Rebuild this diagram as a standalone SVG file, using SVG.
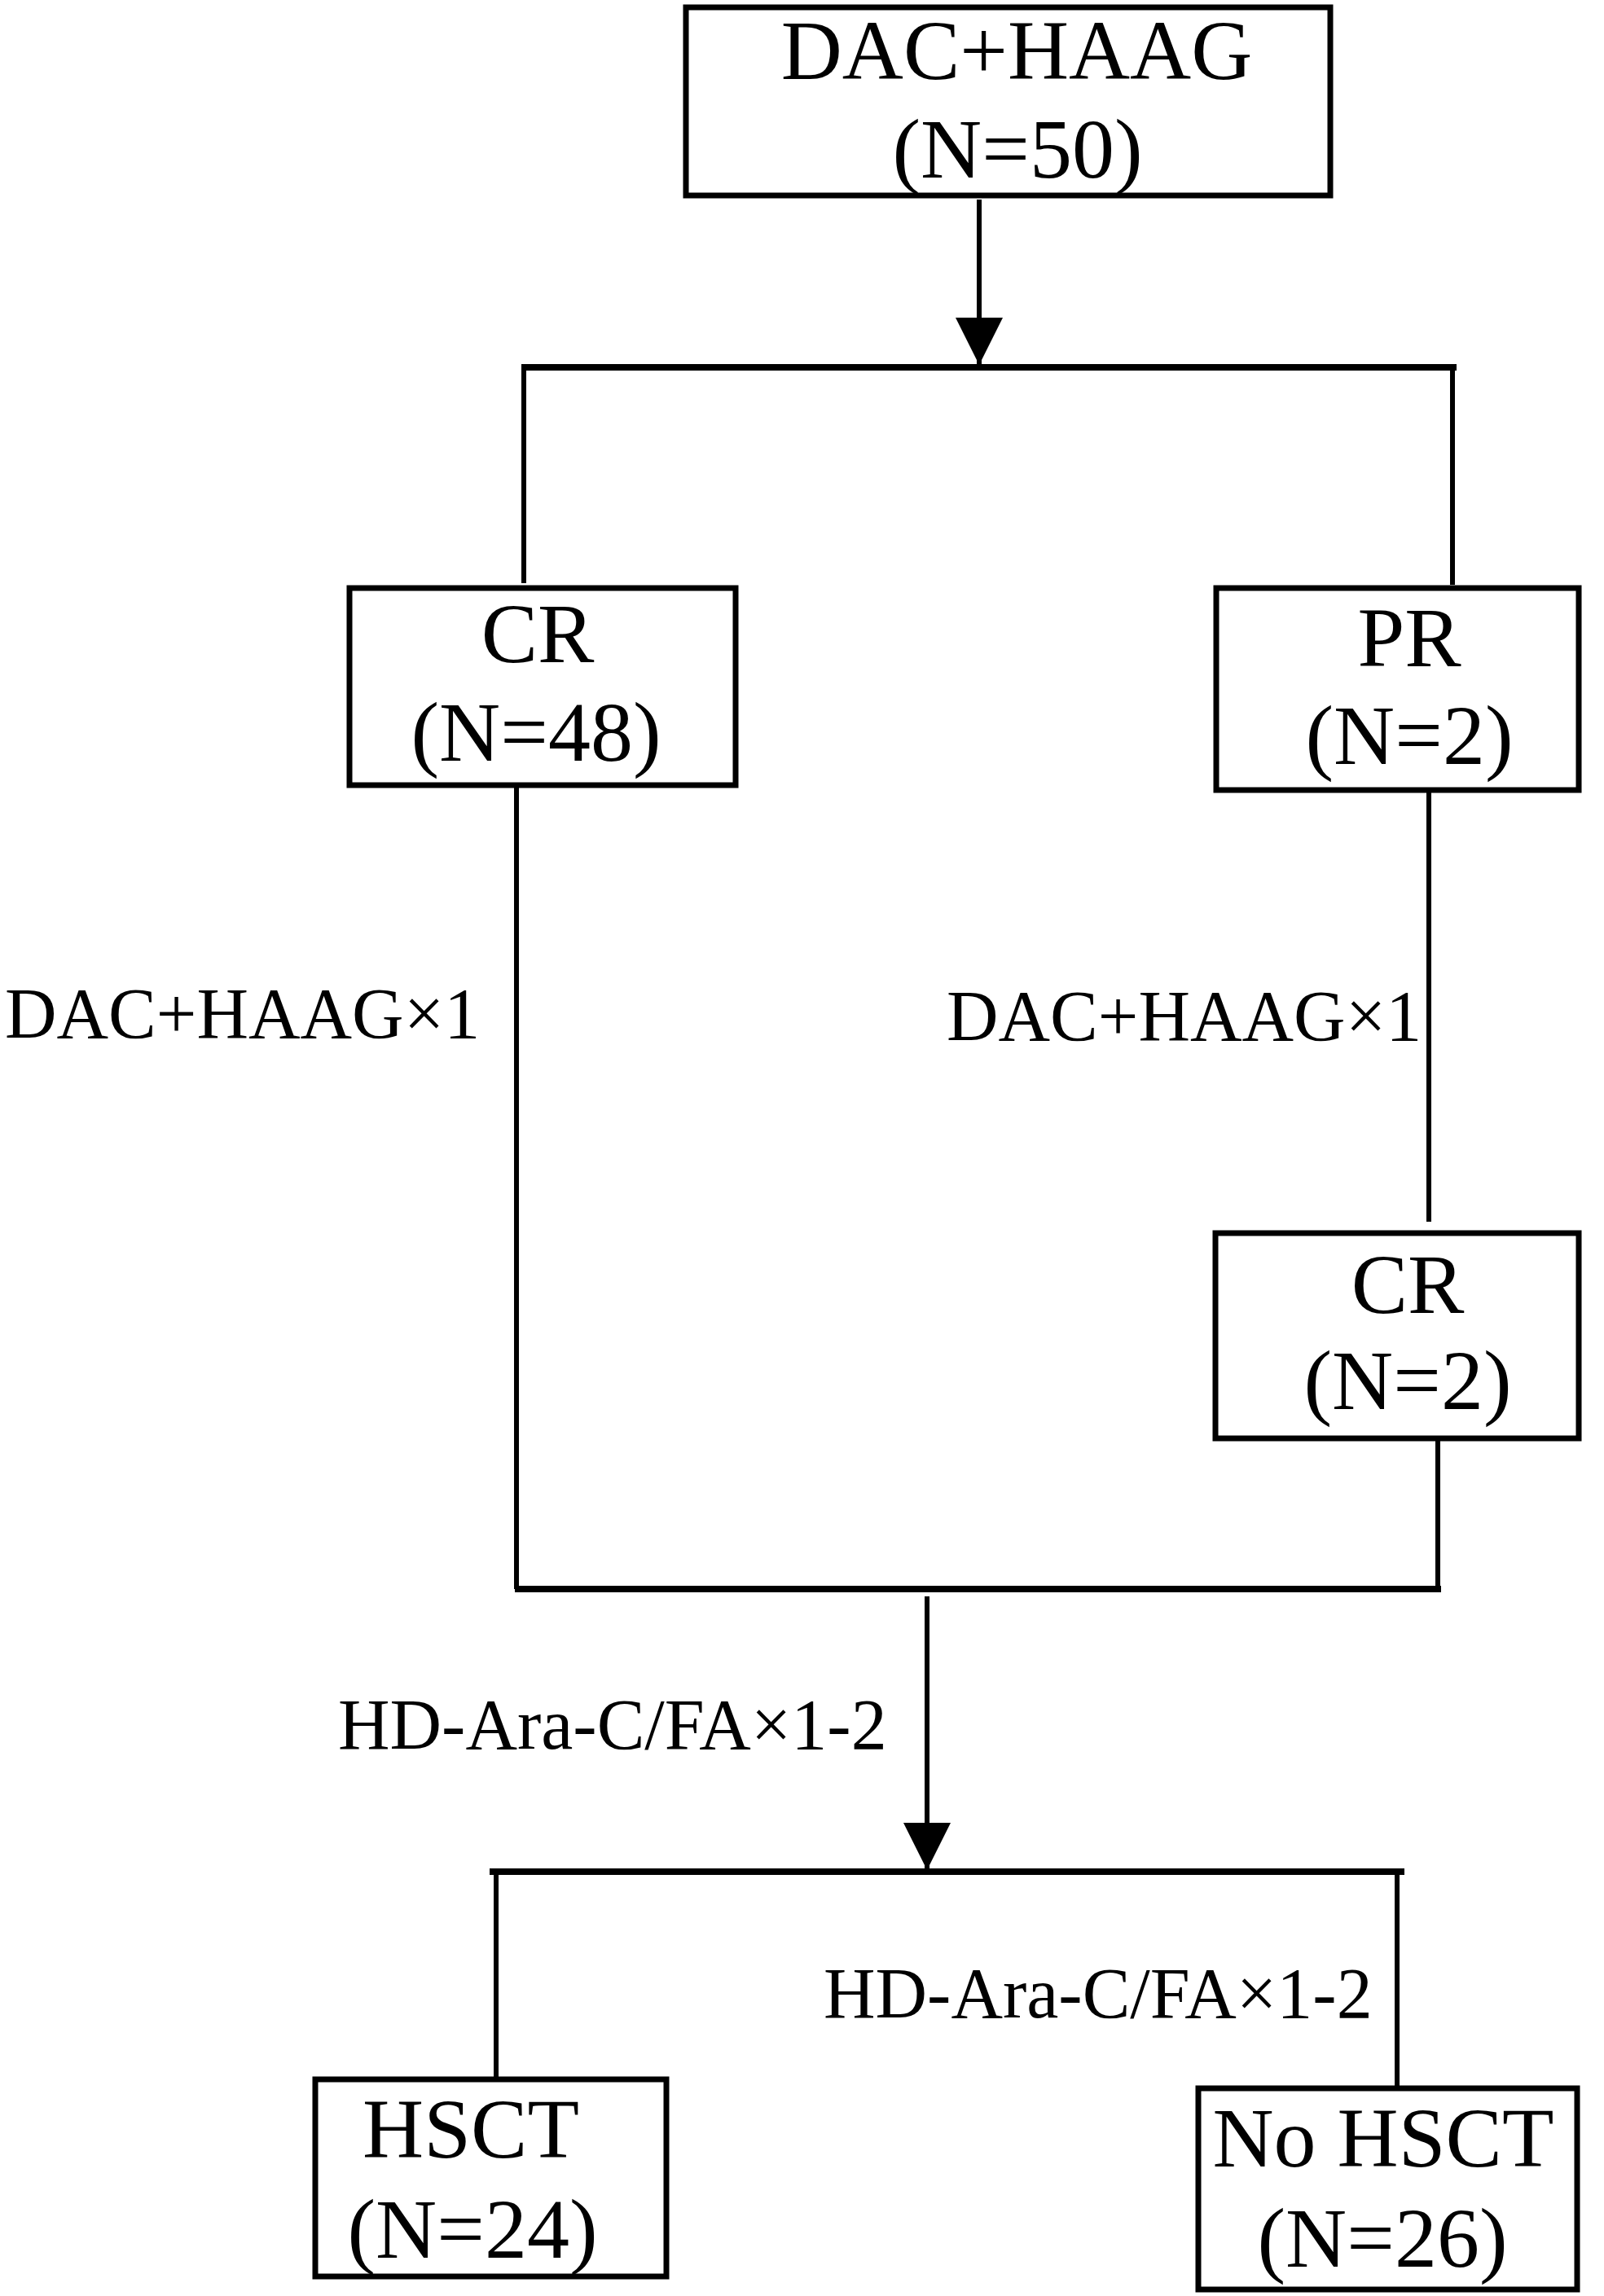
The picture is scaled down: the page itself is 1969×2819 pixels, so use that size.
<svg xmlns="http://www.w3.org/2000/svg" width="1969" height="2819" viewBox="0 0 1969 2819">
<style>
.box{fill:#fff;stroke:#000;stroke-width:7}
.t{font-family:"Liberation Serif","Times New Roman",serif;font-size:104px;fill:#000;text-anchor:middle}
.lbl{font-family:"Liberation Serif","Times New Roman",serif;font-size:88px;fill:#000}
.c{stroke:#000;stroke-width:6;fill:none}
.b{stroke:#000;stroke-width:8;fill:none}
</style>
<defs>
<marker id="ah" viewBox="0 0 58 58" refX="58" refY="29" markerWidth="58" markerHeight="58" markerUnits="userSpaceOnUse" orient="auto">
<path d="M0,0 L58,29 L0,58 z" fill="#000"/>
</marker>
</defs>
<rect width="1969" height="2819" fill="#fff"/>
<g id="connectors">
<line class="c" x1="1202" y1="245" x2="1202" y2="448" marker-end="url(#ah)"/>
<line class="b" x1="640" y1="451" x2="1788" y2="451"/>
<line class="c" x1="643" y1="451" x2="643" y2="716"/>
<line class="c" x1="1783" y1="455" x2="1783" y2="718"/>
<line class="c" x1="634" y1="964" x2="634" y2="1951"/>
<line class="c" x1="1754" y1="970" x2="1754" y2="1500"/>
<line class="c" x1="1765" y1="1766" x2="1765" y2="1951"/>
<line class="b" x1="632" y1="1951" x2="1769" y2="1951"/>
<line class="c" x1="1138" y1="1960" x2="1138" y2="2296" marker-end="url(#ah)"/>
<line class="b" x1="601" y1="2298" x2="1724" y2="2298"/>
<line class="c" x1="609" y1="2298" x2="609" y2="2552"/>
<line class="c" x1="1715" y1="2302" x2="1715" y2="2563"/>
<text class="lbl" x="6" y="1274">DAC+HAAG×1</text>
<text class="lbl" x="1162" y="1277">DAC+HAAG×1</text>
<text class="lbl" x="415" y="2147">HD-Ara-C/FA×1-2</text>
<text class="lbl" x="1011" y="2477">HD-Ara-C/FA×1-2</text>
</g>
<g id="start">
<rect class="box" x="842" y="9" width="791" height="231"/>
<text class="t" x="1248" y="97">DAC+HAAG</text>
<text class="t" x="1249" y="218">(N=50)</text>
</g>
<g id="cr48">
<rect class="box" x="429" y="722" width="474" height="242"/>
<text class="t" x="660" y="813">CR</text>
<text class="t" x="658" y="934">(N=48)</text>
</g>
<g id="pr2">
<rect class="box" x="1493" y="722" width="445" height="248"/>
<text class="t" x="1730" y="818">PR</text>
<text class="t" x="1730" y="938">(N=2)</text>
</g>
<g id="cr2">
<rect class="box" x="1492" y="1514" width="446" height="252"/>
<text class="t" x="1728" y="1612">CR</text>
<text class="t" x="1728" y="1730">(N=2)</text>
</g>
<g id="hsct">
<rect class="box" x="387" y="2553" width="431" height="242"/>
<text class="t" x="578" y="2649">HSCT</text>
<text class="t" x="580" y="2772">(N=24)</text>
</g>
<g id="nohsct">
<rect class="box" x="1471" y="2564" width="465" height="247"/>
<text class="t" x="1698" y="2660">No HSCT</text>
<text class="t" x="1697" y="2783">(N=26)</text>
</g>
</svg>
